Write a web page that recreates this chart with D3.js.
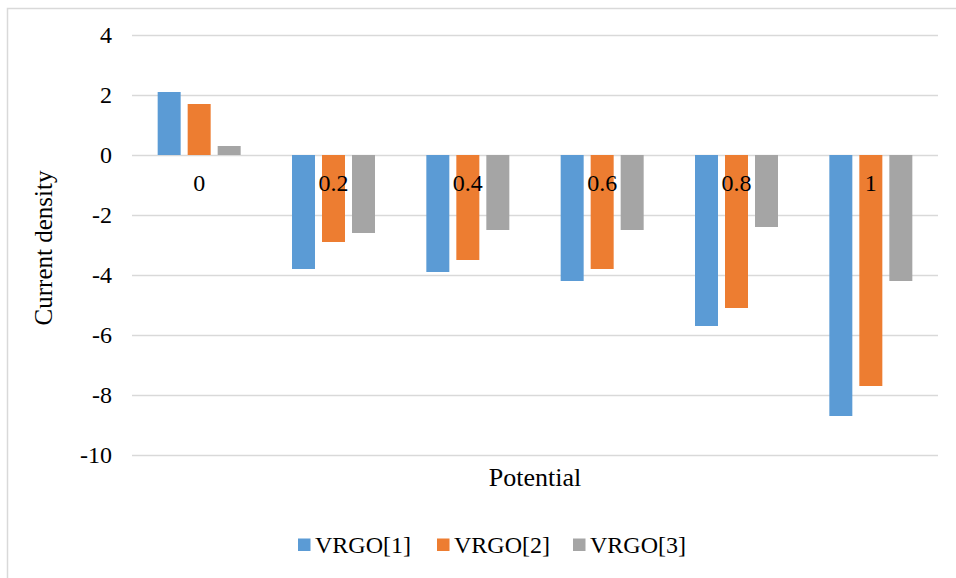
<!DOCTYPE html>
<html><head><meta charset="utf-8">
<script src="https://cdn.jsdelivr.net/npm/d3@7"></script>
<style>body{margin:0;background:#fff}svg{display:block}svg text{font-family:"Liberation Serif","Times New Roman","DejaVu Serif",serif;fill:#000}</style>
</head><body>
<svg id="c" width="956" height="578"></svg>
<script>
const categories = ["0","0.2","0.4","0.6","0.8","1"];
const seriesNames = ["VRGO[1]","VRGO[2]","VRGO[3]"];
const vrgo1 = [2.1,-3.8,-3.9,-4.2,-5.7,-8.7];
const vrgo2 = [1.7,-2.9,-3.5,-3.8,-5.1,-7.7];
const vrgo3 = [0.3,-2.6,-2.5,-2.5,-2.4,-4.2];
const yTicks = [4,2,0,-2,-4,-6,-8,-10];
const colors = ["#5B9BD5","#ED7D31","#A5A5A5"];
const series = [vrgo1, vrgo2, vrgo3];

const svg = d3.select("#c");
const L=132, R=938, T=35, B=455;

// frame
svg.append("path").attr("d","M7.5,600V8.5H960").attr("fill","none").attr("stroke","#D9D9D9").attr("stroke-width",1.5);

const x = d3.scaleBand().domain(categories).range([L,R]).paddingInner(0).paddingOuter(0);
const xs = d3.scaleBand().domain(d3.range(3)).range([0,83]).paddingInner(7/30);
const y = d3.scaleLinear().domain([-10,4]).range([B,T]);

const yAxis = d3.axisLeft(y).tickValues(yTicks).tickSize(-(R-L)).tickPadding(20).tickFormat(d3.format("d"));
const ga = svg.append("g").attr("transform",`translate(${L},0)`).call(yAxis);
ga.attr("font-family",null);
ga.select(".domain").remove();
ga.selectAll(".tick line").attr("stroke","#D9D9D9").attr("stroke-width",1.5);
ga.selectAll(".tick text").style("font-size","24px").attr("fill","#000").text(d=>d<0?"-"+Math.abs(d):d);

const bw = x.bandwidth();
series.forEach((s,i)=>{
  svg.append("g").selectAll("rect").data(s).join("rect")
    .attr("x",(d,j)=>x(categories[j])+bw/2-41.5+xs(i))
    .attr("width",xs.bandwidth())
    .attr("y",d=>y(Math.max(0,d)))
    .attr("height",d=>Math.abs(y(d)-y(0)))
    .attr("fill",colors[i]);
});

// category labels
svg.append("g").selectAll("text").data(categories).join("text")
  .attr("x",d=>x(d)+bw/2).attr("y",y(0)+28).attr("dy","0.35em")
  .attr("text-anchor","middle").style("font-size","24px").text(d=>d);

svg.append("text").attr("transform","translate(43,248) rotate(-90)").attr("text-anchor","middle").attr("dy","0.35em")
  .style("font-size","25px").text("Current density");
svg.append("text").attr("x",535).attr("y",477).attr("text-anchor","middle").attr("dy","0.35em")
  .style("font-size","26px").text("Potential");

// legend
const legX = [298,437,573];
const lg = svg.append("g");
seriesNames.forEach((n,i)=>{
  lg.append("rect").attr("x",legX[i]).attr("y",538.5).attr("width",12.5).attr("height",12.5).attr("fill",colors[i]);
  lg.append("text").attr("x",legX[i]+17).attr("y",545).attr("dy","0.35em").style("font-size","24px").text(n);
});
</script>
</body></html>
